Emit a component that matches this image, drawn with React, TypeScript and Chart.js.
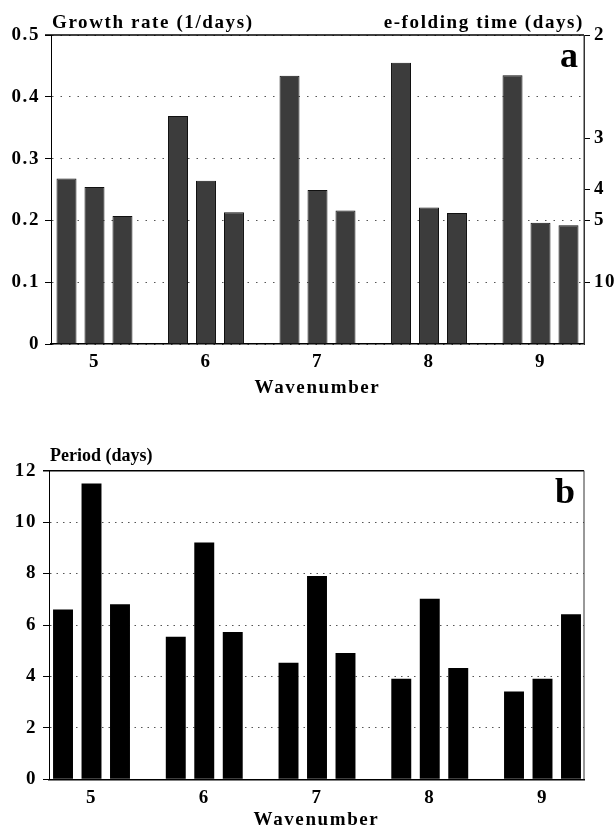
import React, { useEffect, useRef } from 'react';
import { Chart, registerables } from 'chart.js';

Chart.register(...registerables);

// ---------- data ----------
const wavenumbers = [5, 6, 7, 8, 9];

// panel a: growth rate (1/days)
const growthRate1 = [0.268, 0.369, 0.434, 0.455, 0.435];
const growthRate2 = [0.254, 0.264, 0.249, 0.221, 0.196];
const growthRate3 = [0.207, 0.213, 0.216, 0.212, 0.192];
const growthTicks = [0, 0.1, 0.2, 0.3, 0.4, 0.5];
const growthTickLabels = ['0', '0.1', '0.2', '0.3', '0.4', '0.5'];
const eFoldingTicks = [2, 3, 4, 5, 10];

// panel b: period (days)
const period1 = [6.6, 5.54, 4.53, 3.91, 3.41];
const period2 = [11.5, 9.21, 7.91, 7.02, 3.91];
const period3 = [6.81, 5.73, 4.91, 4.33, 6.42];
const periodTicks = [0, 2, 4, 6, 8, 10, 12];
const periodTickLabels = ['0', '2', '4', '6', '8', '10', '12'];

// ---------- styling ----------
const SERIF = '"Liberation Serif", "Times New Roman", serif';
const tickFont = { family: SERIF, size: 19, weight: 'bold' as const };

function makeDecor(cfg: {
  leftTitle: string;
  rightTitle?: string;
  titleY: number;
  titleSize: number;
  titleSpacing: string;
  letter: string;
  letterY: number;
  letterInset: number;
}) {
  return {
    id: 'decor',
    beforeDraw(chart: any) {
      chart.ctx.letterSpacing = '1.6px';
    },
    afterDraw(chart: any) {
      const { ctx, chartArea: a } = chart;
      ctx.save();
      ctx.setLineDash([]);
      ctx.strokeStyle = '#000';
      ctx.lineWidth = 1.5;
      ctx.beginPath();
      ctx.moveTo(a.left - 6, a.top);
      ctx.lineTo(a.right, a.top);
      ctx.stroke();
      ctx.lineWidth = 1;
      ctx.strokeStyle = '#333';
      ctx.beginPath();
      ctx.moveTo(a.right, a.top);
      ctx.lineTo(a.right, a.bottom);
      ctx.stroke();

      ctx.fillStyle = '#000';
      ctx.textBaseline = 'alphabetic';
      ctx.font = `bold ${cfg.titleSize}px ${SERIF}`;
      ctx.letterSpacing = cfg.titleSpacing;
      ctx.textAlign = 'left';
      ctx.fillText(cfg.leftTitle, a.left + 1, cfg.titleY);
      if (cfg.rightTitle) {
        ctx.textAlign = 'right';
        ctx.fillText(cfg.rightTitle, a.right, cfg.titleY);
      }
      ctx.letterSpacing = '0px';
      ctx.font = `bold 36px ${SERIF}`;
      ctx.textAlign = 'right';
      ctx.fillText(cfg.letter, a.right - cfg.letterInset, cfg.letterY);
      ctx.restore();
    },
  };
}

function toPoints(arr: number[]) {
  return arr.map((y, i) => ({ x: wavenumbers[i], y }));
}

function xScale(min: number, max: number, height: number, titlePad: number, lineHeight: number) {
  return {
    type: 'linear' as const,
    min,
    max,
    offset: false,
    afterBuildTicks: (s: any) => {
      s.ticks = wavenumbers.map((v) => ({ value: v }));
    },
    afterFit: (s: any) => {
      s.height = height;
    },
    grid: { display: false, drawTicks: false },
    border: { display: true, color: '#000', width: 1.5 },
    ticks: {
      color: '#000',
      font: tickFont,
      padding: 7,
      maxRotation: 0,
      autoSkip: false,
      callback: (_v: any, i: number) => String(wavenumbers[i]),
    },
    title: {
      display: true,
      text: 'Wavenumber',
      color: '#000',
      font: { family: SERIF, size: 19, weight: 'bold' as const, lineHeight },
      padding: { top: 0, bottom: titlePad },
    },
  };
}

export default function App() {
  const topRef = useRef<HTMLCanvasElement | null>(null);
  const botRef = useRef<HTMLCanvasElement | null>(null);

  useEffect(() => {
    const topBar = {
      backgroundColor: '#3c3c3c',
      borderColor: '#111',
      borderWidth: 1,
      categoryPercentage: 0.753,
      barPercentage: 0.714,
    };
    const botBar = {
      backgroundColor: '#000',
      borderWidth: 0,
      categoryPercentage: 0.758,
      barPercentage: 0.7,
    };

    const top = new Chart(topRef.current as HTMLCanvasElement, {
      type: 'bar',
      data: {
        datasets: [growthRate1, growthRate2, growthRate3].map((arr, k) => ({
          label: `series ${k + 1}`,
          data: toPoints(arr) as any,
          ...topBar,
        })),
      },
      options: {
        animation: false,
        responsive: false,
        devicePixelRatio: 1,
        layout: { padding: { top: 35, left: 0, right: 0, bottom: 0 } },
        plugins: { legend: { display: false }, tooltip: { enabled: false }, title: { display: false } },
        scales: {
          x: xScale(4.61, 9.39, 56, 1, 1.2) as any,
          y: {
            position: 'left',
            min: 0,
            max: 0.5,
            afterBuildTicks: (s: any) => {
              s.ticks = growthTicks.map((v) => ({ value: v }));
            },
            afterFit: (s: any) => {
              s.width = 51;
            },
            ticks: {
              color: '#000',
              font: tickFont,
              padding: 5,
              callback: (_v: any, i: number) => growthTickLabels[i],
            },
            grid: { color: '#555', lineWidth: 1, tickLength: 6, tickColor: '#000', tickBorderDash: [] },
            border: { display: true, color: '#000', width: 1, dash: [1.5, 7] },
          } as any,
          yR: {
            position: 'right',
            min: 0,
            max: 0.5,
            afterBuildTicks: (s: any) => {
              s.ticks = eFoldingTicks.map((t) => ({ value: 1 / t }));
            },
            afterFit: (s: any) => {
              s.width = 31;
            },
            ticks: {
              color: '#000',
              font: tickFont,
              padding: 4,
              callback: (_v: any, i: number) => String(eFoldingTicks[i]),
            },
            grid: { drawOnChartArea: false, tickLength: 6, tickColor: '#000' },
            border: { display: true, color: '#333', width: 1 },
          } as any,
        },
      },
      plugins: [
        makeDecor({
          leftTitle: 'Growth rate (1/days)',
          rightTitle: 'e-folding time (days)',
          titleY: 28,
          titleSize: 19,
          titleSpacing: '1.6px',
          letter: 'a',
          letterY: 67,
          letterInset: 6,
        }),
      ],
    });

    const bot = new Chart(botRef.current as HTMLCanvasElement, {
      type: 'bar',
      data: {
        datasets: [period1, period2, period3].map((arr, k) => ({
          label: `series ${k + 1}`,
          data: toPoints(arr) as any,
          ...botBar,
        })),
      },
      options: {
        animation: false,
        responsive: false,
        devicePixelRatio: 1,
        layout: { padding: { top: 50.7, left: 0, right: 31, bottom: 0 } },
        plugins: { legend: { display: false }, tooltip: { enabled: false }, title: { display: false } },
        scales: {
          x: xScale(4.623, 9.368, 50.7, 0.5, 1.0) as any,
          y: {
            position: 'left',
            min: 0,
            max: 12,
            afterBuildTicks: (s: any) => {
              s.ticks = periodTicks.map((v) => ({ value: v }));
            },
            afterFit: (s: any) => {
              s.width = 49;
            },
            ticks: {
              color: '#000',
              font: tickFont,
              padding: 6,
              callback: (_v: any, i: number) => periodTickLabels[i],
            },
            grid: { color: '#555', lineWidth: 1, tickLength: 6, tickColor: '#000', tickBorderDash: [] },
            border: { display: true, color: '#000', width: 1, dash: [1.5, 5] },
          } as any,
        },
      },
      plugins: [
        makeDecor({
          leftTitle: 'Period (days)',
          titleY: 41,
          titleSize: 18,
          titleSpacing: '0px',
          letter: 'b',
          letterY: 83,
          letterInset: 9,
        }),
      ],
    });

    return () => {
      top.destroy();
      bot.destroy();
    };
  }, []);

  return (
    <div style={{ position: 'fixed', left: 0, top: 0, width: 615, height: 830, background: '#fff' }}>
      <canvas ref={topRef} width={615} height={400} style={{ position: 'absolute', left: 0, top: 0, width: 615, height: 400 }} />
      <canvas ref={botRef} width={615} height={410} style={{ position: 'absolute', left: 0, top: 420, width: 615, height: 410 }} />
    </div>
  );
}
